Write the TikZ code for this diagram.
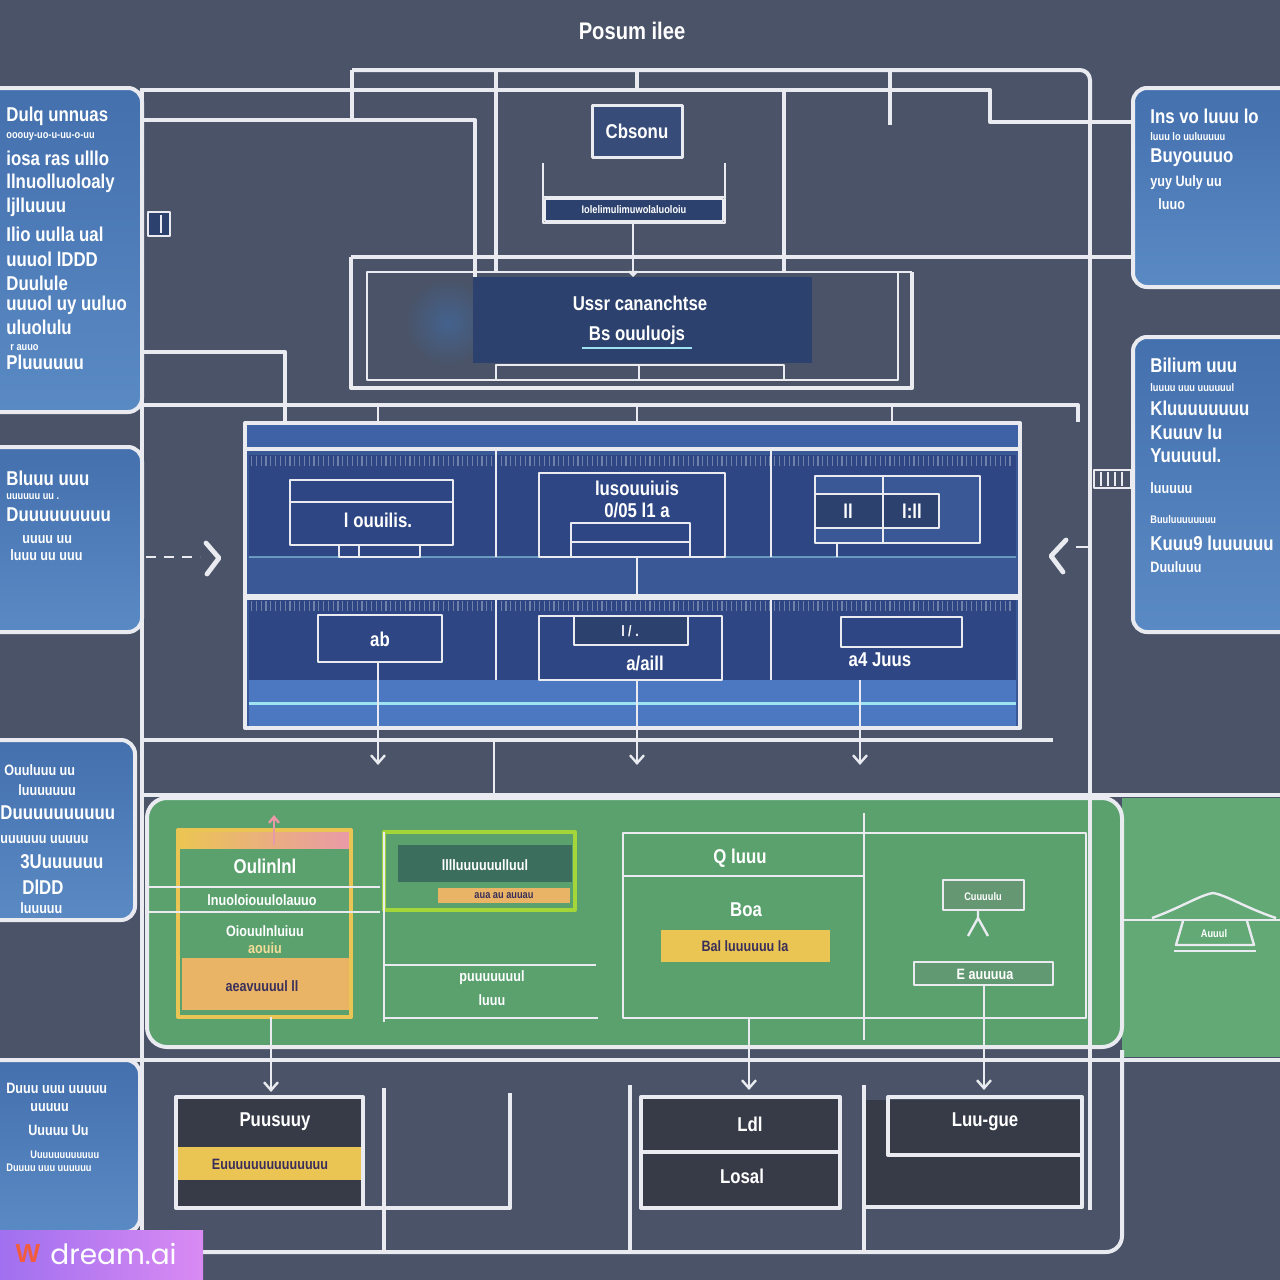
\documentclass[tikz,border=0pt]{standalone}
\usepackage{fontspec}
\setmainfont{Liberation Sans}
\newfontfamily\cond[FakeStretch=0.84]{Liberation Sans}
\newfontfamily\wmfont{Poppins}
\usetikzlibrary{arrows.meta}
\definecolor{bgc}{HTML}{4A5367}
\definecolor{ln}{HTML}{E9EBF0}
\definecolor{pnlA}{HTML}{4470AE}
\definecolor{pnlB}{HTML}{5A8AC4}
\definecolor{navy}{HTML}{2E4784}
\definecolor{navyB}{HTML}{3A5896}
\definecolor{bandc}{HTML}{3F62A6}
\definecolor{stripc}{HTML}{4C78C2}
\definecolor{glint}{HTML}{9FE3F2}
\definecolor{coredk}{HTML}{2C416D}
\definecolor{cbox}{HTML}{374C78}
\definecolor{glow}{HTML}{3F6CA8}
\definecolor{grn}{HTML}{5AA16E}
\definecolor{grnB}{HTML}{63A975}
\definecolor{teal}{HTML}{3C6E5E}
\definecolor{ylw}{HTML}{EBC553}
\definecolor{org}{HTML}{E9B466}
\definecolor{pnk}{HTML}{E99AA8}
\definecolor{dkbox}{HTML}{363B47}
\definecolor{inkd}{HTML}{3A2F5A}
\definecolor{wmA}{HTML}{A070F0}
\definecolor{wmB}{HTML}{D98AF2}
\definecolor{logo}{HTML}{F25C3C}

\begin{document}
\begin{tikzpicture}[x=0.5pt,y=-0.5pt,line join=round,
  wire/.style={draw=ln,line width=2pt},
  fine/.style={draw=ln,line width=1.2pt},
  lab/.style={text=white,inner sep=0pt,font=\cond\bfseries\fontsize{10}{11}\selectfont},
  labs/.style={text=white,inner sep=0pt,font=\cond\bfseries\fontsize{7.5}{8}\selectfont},
  pL/.style={lab,anchor=west},
  pM/.style={labs,anchor=west},
  pS/.style={text=white,inner sep=0pt,anchor=west,font=\cond\bfseries\fontsize{5.5}{6}\selectfont},
  barb/.style={-{Straight Barb[length=4pt,width=7pt,line width=1.2pt]}},
  sidepanel/.style={draw=ln,line width=2pt,rounded corners=7pt,top color=pnlA,bottom color=pnlB},
  ticks/.style={ln,opacity=0.35,line width=5pt,dash pattern=on 0.6pt off 1.8pt},
]
% ground
\fill[bgc] (0,0) rectangle (1280,1280);
\useasboundingbox (0,0) rectangle (1280,1280);

% side panels
\path[sidepanel] (-20,88) rectangle (142,412);
\path[sidepanel] (-20,447) rectangle (142,632);
\path[sidepanel] (-20,740) rectangle (135,920);
\path[sidepanel] (-20,1060) rectangle (140,1232);
\path[sidepanel] (1133,88) rectangle (1300,287);
\path[sidepanel] (1133,337) rectangle (1300,632);

% side panel texts, left column
\node[pL] (l1a) at (6,116) {Dulq unnuas};
\node[pS] (l1b) at (6,137) {ooouy-uo-u-uu-o-uu};
\node[pL] (l1c) at (6,158) {iosa ras ulllo};
\node[pL] (l1d) at (6,183) {llnuolluoloaly};
\node[pL] (l1e) at (6,207) {ljlluuuu};
\node[pL] (l1f) at (6,234) {Ilio uulla ual};
\node[pL] (l1g) at (6,259) {uuuol lDDD};
\node[pL] (l1h) at (6,283) {Duulule};
\node[pL] (l1i) at (6,305) {uuuol uy uuluo};
\node[pL] (l1j) at (6,327) {uluolulu};
\node[pS] (l1k) at (10,348) {r auuo};
\node[pL] (l1l) at (6,362) {Pluuuuuu};

\node[pL] (l2a) at (6,478) {Bluuu uuu};
\node[pS] (l2b) at (6,497) {uuuuuu uu .};
\node[pL] (l2c) at (6,515) {Duuuuuuuuu};
\node[pM] (l2d) at (22,540) {uuuu uu};
\node[pM] (l2e) at (10,555) {luuu uu uuu};

\node[pM] (l3a) at (4,770) {Ouuluuu uu};
\node[pM] (l3b) at (18,790) {luuuuuuu};
\node[pL] (l3c) at (0,813) {Duuuuuuuuuu};
\node[pM] (l3d) at (0,840) {uuuuuu uuuuu};
\node[pL] (l3e) at (20,862) {3Uuuuuuu};
\node[pL] (l3f) at (22,887) {DlDD};
\node[pM] (l3g) at (20,908) {luuuuu};

\node[pM] (l4a) at (6,1088) {Duuu uuu uuuuu};
\node[pM] (l4b) at (30,1108) {uuuuu};
\node[pM] (l4c) at (28,1130) {Uuuuu Uu};
\node[pS] (l4d) at (30,1155) {Uuuuuuuuuuuu};
\node[pS] (l4e) at (6,1168) {Duuuu uuu uuuuuu};

% side panel texts, right column
\node[pL] (r1a) at (1150,116) {Ins vo luuu lo};
\node[pS] (r1b) at (1150,137) {luuu lo uuluuuuu};
\node[pL] (r1c) at (1150,158) {Buyouuuo};
\node[pM] (r1d) at (1150,183) {yuy Uuly uu};
\node[pM] (r1e) at (1158,204) {luuo};
\node[pL] (r2a) at (1150,365) {Bilium uuu};
\node[pS] (r2b) at (1150,388) {luuuu uuu uuuuuul};
\node[pL] (r2c) at (1150,408) {Kluuuuuuuu};
\node[pL] (r2d) at (1150,432) {Kuuuv lu};
\node[pL] (r2e) at (1150,455) {Yuuuuul.};
\node[pM] (r2f) at (1150,488) {luuuuu};
\node[pS] (r2g) at (1150,520) {Buuluuuuuuuu};
\node[pL] (r2h) at (1150,543) {Kuuu9 luuuuuu};
\node[pM] (r2i) at (1150,567) {Duuluuu};

% title
\node[lab,font=\cond\bfseries\fontsize{12}{13}\selectfont] (title) at (632,31) {Posum ilee};

% top wiring
\draw[wire,rounded corners=5pt] (352,70) -- (1090,70) -- (1090,120);
\draw[wire] (142,90) -- (990,90) -- (990,122) -- (1133,122);
\draw[wire] (142,120) -- (475,120) -- (475,277);
\draw[wire] (352,70) -- (352,120);
\draw[wire] (496,70) -- (496,272);
\draw[wire] (784,90) -- (784,272);
\draw[wire] (890,70) -- (890,125);
\draw[wire] (637,70) -- (637,90);
\draw[wire] (351,257) -- (1133,257);
\draw[wire] (351,257) -- (351,388) -- (912,388) -- (912,272);
\draw[fine] (367,272) rectangle (898,380);
\draw[fine] (898,272) -- (912,272);

% central dark box
\shade[inner color=glow!60!bgc,outer color=bgc] (448,322) circle (44);
\fill[coredk] (473,277) rectangle (812,363);
\node[lab] (coreA) at (640,303) {Ussr cananchtse};
\node[lab] (coreB) at (637,335) {Bs ouuluojs};
\draw[glint,line width=1pt] (582,348) -- (692,348);
\draw[fine] (496,365) rectangle (784,380);
\draw[fine] (639,365) -- (639,380);

% top box and bracket
\filldraw[fill=cbox,draw=ln,line width=1.5pt] (592,105) rectangle (682,157);
\node[lab] (cbs) at (637,131) {Cbsonu};
\draw[fine] (543,163) -- (543,223) -- (725,223) -- (725,163);
\filldraw[fill=coredk,fine] (545,199) rectangle (723,221);
\draw[fine] (543,197) -- (725,197);
\node[pS,anchor=center] (bar) at (634,210) {Iolelimulimuwolaluoloiu};
\draw[fine,-{Straight Barb[length=2pt,width=4pt]}] (633,223) -- (633,277);

% small tab
\filldraw[fill=coredk,fine] (148,212) rectangle (170,236);
\draw[ln,line width=1pt] (161,215) -- (161,233);

% feeds into the main block
\draw[wire] (142,352) -- (285,352) -- (285,447);
\draw[wire] (142,405) -- (1078,405) -- (1078,422);
\foreach \xx in {378,637,892} \draw[fine,barb] (\xx,405) -- (\xx,440);

% main block
\fill[navyB] (245,423) rectangle (1020,728);
\fill[bandc] (247,425) rectangle (1018,447);
\fill[navy] (249,455) rectangle (1016,557);
\fill[navyB] (249,557) rectangle (1016,595);
\fill[navy] (249,600) rectangle (1016,680);
\fill[stripc] (249,680) rectangle (1016,726);
\draw[ticks] (251,461) -- (1014,461);
\draw[ticks] (251,606) -- (1014,606);
\draw[glint,line width=1.5pt] (249,703) -- (1016,703);
\draw[glint,opacity=0.5,line width=0.8pt] (249,557) -- (1016,557);
\draw[wire] (245,449) -- (1020,449);
\draw[wire,line width=2.6pt] (245,597) -- (1020,597);
\draw[wire] (245,423) rectangle (1020,728);
\draw[fine] (496,449) -- (496,557) (771,449) -- (771,557);
\draw[fine] (496,597) -- (496,680) (771,597) -- (771,680);

% row 1
\draw[fine] (290,480) rectangle (453,545);
\draw[fine] (290,502) -- (453,502);
\node[lab] (m1) at (378,520) {l ouuilis.};
\draw[fine] (339,545) rectangle (420,557);
\draw[fine] (359,545) -- (359,557);
\draw[fine] (539,473) rectangle (725,557);
\node[lab] (m2a) at (637,488) {lusouuiuis};
\node[lab] (m2b) at (637,510) {0/05 l1 a};
\draw[fine] (571,523) rectangle (690,557);
\draw[fine] (571,542) -- (690,542);
\filldraw[fill=navyB,fine] (815,476) rectangle (980,543);
\filldraw[fill=coredk,fine] (815,494) rectangle (939,528);
\draw[fine] (883,476) -- (883,543);
\node[lab] (m3a) at (848,511) {ll};
\node[lab] (m3b) at (912,511) {l:ll};
\draw[fine] (837,543) -- (837,557);
\draw[fine] (637,557) -- (637,597);

% row 2
\draw[fine] (318,615) rectangle (442,662);
\node[lab] (m4) at (380,639) {ab};
\draw[fine] (539,616) rectangle (722,680);
\filldraw[fill=coredk,fine] (574,616) rectangle (688,645);
\node[labs] (m5a) at (630,631) {l / .};
\node[lab] (m5b) at (645,663) {a/aill};
\draw[fine] (841,617) rectangle (962,647);
\node[lab] (m6) at (880,660) {a4 Juus};

% side arrows
\draw[ln,line width=1.4pt,dash pattern=on 5pt off 4pt] (146,557) -- (200,557);
\draw[ln,line width=2.4pt,line cap=round] (206,543) -- (219,558) -- (207,574);
\draw[ln,line width=2.4pt,line cap=round] (1066,540) -- (1051,556) -- (1063,572);
\draw[fine] (1076,547) -- (1090,547);
\draw[fine] (1094,470) rectangle (1131,488);
\foreach \xx in {1101,1108,1115,1122} \draw[ln,line width=1pt] (\xx,472) -- (\xx,486);

% outputs of the main block
\draw[wire] (142,740) -- (1053,740);
\foreach \xx/\yy in {378/662,637/680,860/680} \draw[fine,barb] (\xx,\yy) -- (\xx,765);
\draw[fine,barb] (494,740) -- (494,828);

% green stage
\draw[wire] (142,795) -- (1280,795);
\fill[grnB] (1122,798) rectangle (1280,1057);
\draw[wire,fill=grn,rounded corners=10pt] (147,798) rectangle (1122,1047);

% green box 1
\shade[left color=ylw,right color=pnk] (178,830) rectangle (351,848);
\draw[draw=ylw,line width=2pt] (178,830) rectangle (351,1017);
\node[lab] (g1a) at (265,866) {Oulinlnl};
\draw[fine] (147,887) -- (380,887);
\draw[fine] (147,912) -- (380,912);
\node[labs] (g1b) at (262,900) {lnuoloiouulolauuo};
\node[labs] (g1c) at (265,931) {Oiouulnluiuu};
\node[labs,text=ylw!60!white] (g1d) at (265,948) {aouiu};
\fill[org] (182,958) rectangle (349,1010);
\node[labs,text=inkd] (g1e) at (262,986) {aeavuuuul ll};
\draw[pnk,line width=1.2pt,-{Straight Barb[length=3pt,width=5pt]}] (274,845) -- (274,815);

% green box 2
\draw[draw=ylw!70!green,line width=2pt] (384,832) rectangle (575,910);
\fill[teal] (398,845) rectangle (572,882);
\node[labs] (g2a) at (485,865) {lllluuuuuulluul};
\fill[org] (438,888) rectangle (570,903);
\node[pS,anchor=center,text=inkd] (g2b) at (504,896) {aua au auuau};
\draw[fine] (384,832) -- (384,1022);
\draw[fine] (384,965) -- (596,965);
\draw[fine] (384,1018) -- (598,1018);
\node[labs] (g2c) at (492,978) {puuuuuuul};
\node[labs] (g2d) at (492,1000) {luuu};

% green box 3
\draw[fine] (623,833) rectangle (1086,1018);
\draw[fine] (864,813) -- (864,1040);
\draw[fine] (623,876) -- (864,876);
\node[lab] (g3a) at (740,858) {Q luuu};
\node[lab] (g3b) at (746,910) {Boa};
\fill[ylw] (661,930) rectangle (830,962);
\node[labs,text=inkd] (g3c) at (745,946) {Bal luuuuuu la};
\filldraw[fill=grn!70!gray,fine] (943,880) rectangle (1024,910);
\node[pS,anchor=center] (g3d) at (983,897) {Cuuuulu};
\draw[ln,line width=1.2pt] (978,910) -- (978,920) (968,936) -- (978,918) -- (988,936);
\filldraw[fill=grn!80!gray,fine] (914,962) rectangle (1053,985);
\node[labs] (g3e) at (985,974) {E auuuua};

% hat on the right
\draw[fine] (1122,920) -- (1280,920);
\draw[ln,line width=1.2pt] (1152,918) .. controls (1180,908) and (1200,895) .. (1213,893) .. controls (1226,895) and (1246,908) .. (1276,918);
\draw[fine] (1183,921) -- (1176,945) -- (1254,945) -- (1247,921);
\draw[fine] (1174,951) -- (1256,951);
\node[pS,anchor=center] (hat) at (1214,934) {Auuul};

% drops to the bottom stage
\draw[fine,barb] (271,1017) -- (271,1092);
\draw[fine,barb] (749,1018) -- (749,1090);
\draw[fine,barb] (984,985) -- (984,1090);

% bottom stage
\draw[wire] (0,1060) -- (1280,1060);
\draw[wire,rounded corners=8pt] (142,1252) -- (1122,1252) -- (1122,1050);
\filldraw[fill=dkbox,wire] (176,1097) rectangle (363,1208);
\node[lab] (b1a) at (275,1122) {Puusuuy};
\fill[ylw] (178,1147) rectangle (361,1180);
\node[labs,text=inkd] (b1b) at (270,1164) {Euuuuuuuuuuuuuu};
\draw[wire] (363,1208) -- (510,1208) -- (510,1093);
\draw[wire] (384,1088) -- (384,1252);
\filldraw[fill=dkbox,wire] (641,1097) rectangle (840,1208);
\draw[wire] (641,1152) -- (840,1152);
\node[lab] (b2a) at (750,1124) {Ldl};
\node[lab] (b2b) at (742,1176) {Losal};
\draw[wire] (630,1085) -- (630,1252);
\fill[dkbox] (864,1100) rectangle (1082,1207);
\draw[wire] (888,1097) rectangle (1082,1155);
\draw[wire] (864,1207) -- (1082,1207) -- (1082,1155);
\draw[wire] (864,1085) -- (864,1252);
\node[lab] (b3) at (985,1122) {Luu-gue};

% long rails
\draw[wire] (142,88) -- (142,1252);
\draw[wire] (1090,100) -- (1090,1210);

% badge
\shade[left color=wmA,right color=wmB] (0,1230) rectangle (203,1280);
\node[text=logo,inner sep=0pt,font=\bfseries\fontsize{13}{13}\selectfont] (logo) at (28,1254) {W};
\node[text=white,inner sep=0pt,anchor=west,font=\wmfont\fontsize{14}{15}\selectfont] (wm) at (50,1254) {dream.ai};
\end{tikzpicture}
\end{document}
